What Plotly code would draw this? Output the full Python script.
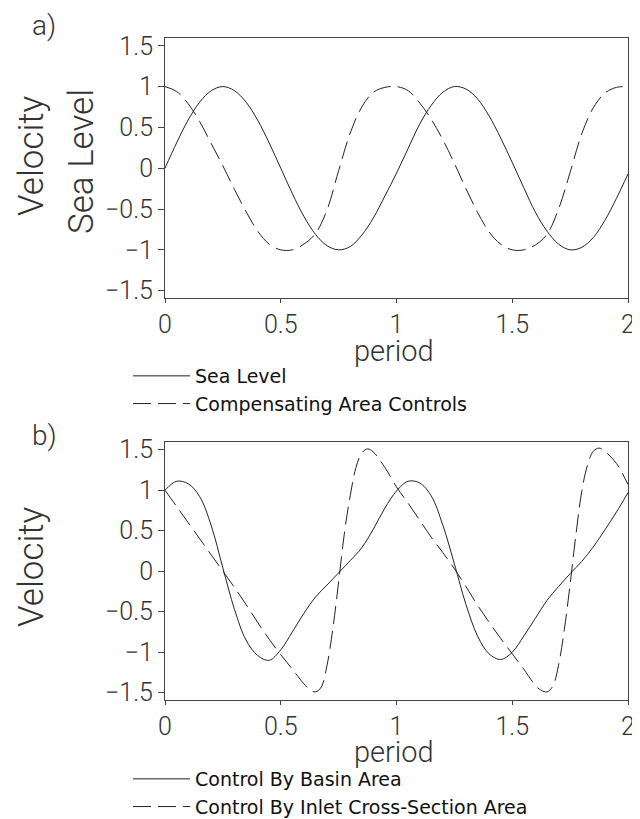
import plotly.graph_objects as go

# ---------------- data ----------------
t_a = [0.00, 0.05, 0.10, 0.15, 0.20, 0.25, 0.30, 0.35, 0.40, 0.45,
       0.50, 0.55, 0.60, 0.65, 0.70, 0.75, 0.80, 0.85, 0.90, 0.95,
       1.00, 1.05, 1.10, 1.15, 1.20, 1.25, 1.30, 1.35, 1.40, 1.45,
       1.50, 1.55, 1.60, 1.65, 1.70, 1.75, 1.80, 1.85, 1.90, 1.95, 2.00]

sea_level = [0.00, 0.31, 0.59, 0.81, 0.95, 1.00, 0.95, 0.81, 0.59, 0.31,
             0.00, -0.31, -0.59, -0.81, -0.95, -1.00, -0.96, -0.82, -0.61, -0.34,
             -0.06, 0.24, 0.54, 0.77, 0.93, 1.00, 0.97, 0.85, 0.64, 0.37,
             0.07, -0.24, -0.54, -0.77, -0.93, -1.00, -0.97, -0.85, -0.64, -0.37, -0.07]

compensating = [1.00, 0.94, 0.79, 0.57, 0.30, 0.03, -0.26, -0.53, -0.77, -0.93,
                -1.00, -1.00, -0.93, -0.80, -0.51, -0.03, 0.43, 0.75, 0.93, 0.99,
                1.00, 0.95, 0.80, 0.60, 0.35, 0.06, -0.25, -0.54, -0.78, -0.93,
                -1.00, -1.00, -0.94, -0.81, -0.50, -0.05, 0.42, 0.74, 0.92, 0.99, 1.00]

t_b = t_a

basin = [1.00, 1.11, 1.08, 0.92, 0.56, 0.04, -0.47, -0.85, -1.04, -1.10,
         -0.97, -0.75, -0.52, -0.32, -0.17, -0.02, 0.13, 0.29, 0.52, 0.78,
         0.99, 1.11, 1.09, 0.93, 0.57, 0.09, -0.41, -0.80, -1.02, -1.09,
         -1.00, -0.80, -0.58, -0.36, -0.19, -0.03, 0.12, 0.30, 0.51, 0.73, 0.97]

t_inlet = [0.00, 0.05, 0.10, 0.15, 0.20, 0.25, 0.30, 0.35, 0.40, 0.45, 0.50, 0.55,
           0.60, 0.625, 0.65, 0.675, 0.70, 0.725, 0.75, 0.775, 0.80, 0.825, 0.85,
           0.875, 0.90, 0.95,
           1.00, 1.05, 1.10, 1.15, 1.20, 1.25, 1.30, 1.35, 1.40, 1.45, 1.50, 1.55,
           1.60, 1.625, 1.65, 1.675, 1.70, 1.725, 1.75, 1.775, 1.80, 1.825, 1.85,
           1.875, 1.90, 1.95, 2.00]

inlet = [1.00, 0.80, 0.60, 0.40, 0.20, 0.00, -0.20, -0.41, -0.63, -0.84, -1.03, -1.21,
         -1.39, -1.46, -1.49, -1.43, -1.16, -0.71, -0.13, 0.47, 0.93, 1.28, 1.46,
         1.51, 1.47, 1.28,
         1.04, 0.84, 0.63, 0.42, 0.23, 0.03, -0.19, -0.42, -0.63, -0.83, -1.02, -1.21,
         -1.41, -1.47, -1.49, -1.42, -1.16, -0.72, -0.16, 0.45, 0.98, 1.31, 1.48,
         1.52, 1.48, 1.33, 1.07]

x_ticks = [0, 0.5, 1, 1.5, 2]
x_ticktext = ["0", "0.5", "1", "1.5", "2"]
y_ticks = [-1.5, -1, -0.5, 0, 0.5, 1, 1.5]
y_ticktext = ["\u22121.5", "\u22121", "\u22120.5", "0", "0.5", "1", "1.5"]

# ---------------- figure ----------------
# the page body has an 8px margin, so the figure starts 8px into the window
OFF = 8
W, H = 640 - OFF, 819 - OFF


def px(xp):
    return (xp - OFF) / W


def py(yp):
    return 1 - (yp - OFF) / H


LINE = "#222222"
AXC = "#444444"
TICKFONT = dict(family="Roboto", size=25, color="#333333", weight=300)
LABFONT = dict(family="Roboto", size=35, color="#333333", weight=300)
PANFONT = dict(family="Roboto", size=28, color="#333333", weight=300)
PERFONT = dict(family="Roboto", size=29, color="#333333", weight=300)
LEGFONT = dict(family="DejaVu Sans", size=19, color="#111111")
DASH = "18px,7px"

fig = go.Figure()
fig.add_trace(go.Scatter(x=t_a, y=sea_level, mode="lines", name="Sea Level",
                         line=dict(color=LINE, width=1, shape="spline"),
                         xaxis="x", yaxis="y", legend="legend"))
fig.add_trace(go.Scatter(x=t_a, y=compensating, mode="lines",
                         name="Compensating Area Controls",
                         line=dict(color=LINE, width=1, dash=DASH, shape="spline"),
                         xaxis="x", yaxis="y", legend="legend"))
fig.add_trace(go.Scatter(x=t_b, y=basin, mode="lines", name="Control By Basin Area",
                         line=dict(color=LINE, width=1, shape="spline"),
                         xaxis="x2", yaxis="y2", legend="legend2"))
fig.add_trace(go.Scatter(x=t_inlet, y=inlet, mode="lines",
                         name="Control By Inlet Cross-Section Area",
                         line=dict(color=LINE, width=1, dash=DASH, shape="spline"),
                         xaxis="x2", yaxis="y2", legend="legend2"))

xdom = [px(165), px(628)]
ya_dom = [py(298), py(38)]
yb_dom = [py(700), py(442)]

common_x = dict(range=[0, 2], tickvals=x_ticks, ticktext=x_ticktext,
                showline=True, mirror=True, linecolor=AXC, linewidth=1,
                ticks="outside", ticklen=4, tickcolor=AXC, tickwidth=1,
                showgrid=False, zeroline=False, tickfont=TICKFONT,
                domain=xdom, fixedrange=True, automargin=False)
common_y = dict(range=[-1.59, 1.595], tickvals=y_ticks, ticktext=y_ticktext,
                showline=True, mirror=True, linecolor=AXC, linewidth=1,
                ticks="outside", ticklen=6, tickcolor=AXC, tickwidth=1,
                showgrid=False, zeroline=False, tickfont=TICKFONT,
                fixedrange=True, automargin=False)

fig.update_layout(
    width=W, height=H,
    margin=dict(l=0, r=0, t=0, b=0, autoexpand=False),
    paper_bgcolor="white", plot_bgcolor="white",
    xaxis=dict(common_x, anchor="y"),
    yaxis=dict(common_y, domain=ya_dom, anchor="x"),
    xaxis2=dict(common_x, anchor="y2"),
    yaxis2=dict(common_y, domain=yb_dom, anchor="x2"),
    legend=dict(x=px(128), y=py(357), xanchor="left", yanchor="top",
                font=LEGFONT, bgcolor="rgba(0,0,0,0)", itemwidth=57,
                tracegroupgap=0),
    legend2=dict(x=px(128), y=py(760), xanchor="left", yanchor="top",
                 font=LEGFONT, bgcolor="rgba(0,0,0,0)", itemwidth=57,
                 tracegroupgap=0),
    showlegend=True,
)

ann = [
    dict(text="a)", x=px(44), y=py(26), font=PANFONT),
    dict(text="b)", x=px(44), y=py(435), font=PANFONT),
    dict(text="Velocity", x=px(31), y=py(156), textangle=-90, font=LABFONT),
    dict(text="Sea Level", x=px(81), y=py(162), textangle=-90, font=LABFONT),
    dict(text="Velocity", x=px(31), y=py(567), textangle=-90, font=LABFONT),
    dict(text="period", x=px(394), y=py(351), font=PERFONT),
    dict(text="period", x=px(394), y=py(752), font=PERFONT),
]
for a in ann:
    fig.add_annotation(xref="paper", yref="paper", showarrow=False,
                       xanchor="center", yanchor="middle", **a)

fig.write_html("out.html")
